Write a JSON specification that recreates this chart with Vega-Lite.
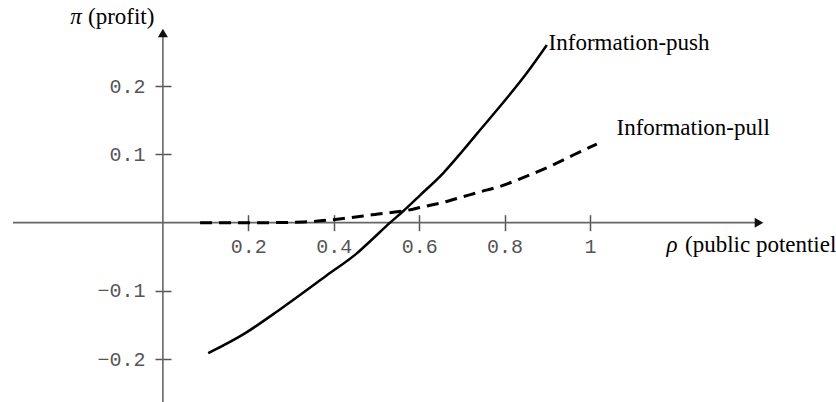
{
  "$schema": "https://vega.github.io/schema/vega-lite/v6.json",
  "width": 836,
  "height": 402,
  "autosize": {"type": "none"},
  "padding": 0,
  "background": "white",
  "config": {"view": {"stroke": null}},
  "datasets": {
    "curves": [
      {"series": "push", "x": 0.106, "y": -0.191},
      {"series": "push", "x": 0.192, "y": -0.162},
      {"series": "push", "x": 0.274, "y": -0.127},
      {"series": "push", "x": 0.384, "y": -0.077},
      {"series": "push", "x": 0.454, "y": -0.045},
      {"series": "push", "x": 0.489, "y": -0.025},
      {"series": "push", "x": 0.532, "y": 0.0},
      {"series": "push", "x": 0.563, "y": 0.017},
      {"series": "push", "x": 0.602, "y": 0.04},
      {"series": "push", "x": 0.657, "y": 0.073},
      {"series": "push", "x": 0.703, "y": 0.106},
      {"series": "push", "x": 0.735, "y": 0.13},
      {"series": "push", "x": 0.805, "y": 0.182},
      {"series": "push", "x": 0.852, "y": 0.219},
      {"series": "push", "x": 0.899, "y": 0.26},
      {"series": "pull", "x": 0.087, "y": 0.0},
      {"series": "pull", "x": 0.227, "y": 0.0},
      {"series": "pull", "x": 0.33, "y": 0.001},
      {"series": "pull", "x": 0.375, "y": 0.003},
      {"series": "pull", "x": 0.422, "y": 0.006},
      {"series": "pull", "x": 0.469, "y": 0.0097},
      {"series": "pull", "x": 0.516, "y": 0.0137},
      {"series": "pull", "x": 0.563, "y": 0.017},
      {"series": "pull", "x": 0.61, "y": 0.0234},
      {"series": "pull", "x": 0.657, "y": 0.0298},
      {"series": "pull", "x": 0.703, "y": 0.038},
      {"series": "pull", "x": 0.742, "y": 0.045},
      {"series": "pull", "x": 0.789, "y": 0.053},
      {"series": "pull", "x": 0.832, "y": 0.063},
      {"series": "pull", "x": 0.875, "y": 0.074},
      {"series": "pull", "x": 0.922, "y": 0.087},
      {"series": "pull", "x": 0.961, "y": 0.099},
      {"series": "pull", "x": 1.016, "y": 0.115}
    ],
    "axisLines": [
      {"x": -0.351, "x2": 1.39, "y": 0, "y2": 0},
      {"x": 0, "x2": 0, "y": -0.27, "y2": 0.275}
    ],
    "arrows": [
      {"x": 1.3957, "y": 0, "shape": "triangle-right"},
      {"x": 0, "y": 0.2776, "shape": "triangle-up"}
    ],
    "labels": [
      {"x": -0.217, "y": 0.301, "text": "π", "kind": "greek"},
      {"x": -0.1754, "y": 0.301, "text": "(profit)", "kind": "plain"},
      {"x": 0.903, "y": 0.263, "text": "Information-push", "kind": "plain"},
      {"x": 1.062, "y": 0.138, "text": "Information-pull", "kind": "plain"},
      {"x": 1.179, "y": -0.033, "text": "ρ", "kind": "greek"},
      {"x": 1.2224, "y": -0.033, "text": "(public potentiel)", "kind": "plain"}
    ]
  },
  "encoding": {
    "x": {
      "field": "x",
      "type": "quantitative",
      "scale": {"domain": [-0.3814, 1.576], "nice": false, "zero": false},
      "axis": {
        "title": null,
        "values": [0.2, 0.4, 0.6, 0.8, 1],
        "format": "~g",
        "domain": false,
        "grid": false,
        "offset": -187.3,
        "tickSize": 16,
        "tickColor": "#555555",
        "tickWidth": 1.5,
        "labelFont": "Liberation Mono",
        "labelFontSize": 20,
        "labelColor": "#555555",
        "labelPadding": 6
      }
    },
    "y": {
      "field": "y",
      "type": "quantitative",
      "scale": {"domain": [-0.2625, 0.3259], "nice": false, "zero": false},
      "axis": {
        "title": null,
        "values": [-0.2, -0.1, 0.1, 0.2],
        "format": "~g",
        "domain": false,
        "grid": false,
        "offset": -171,
        "tickSize": 16,
        "tickColor": "#555555",
        "tickWidth": 1.5,
        "labelFont": "Liberation Mono",
        "labelFontSize": 20,
        "labelColor": "#555555",
        "labelPadding": 10
      }
    }
  },
  "layer": [
    {
      "data": {"name": "axisLines"},
      "mark": {"type": "rule", "color": "#666666", "strokeWidth": 1.6},
      "encoding": {"x2": {"field": "x2"}, "y2": {"field": "y2"}}
    },
    {
      "data": {"name": "arrows"},
      "mark": {"type": "point", "filled": true, "size": 100, "color": "#111111", "opacity": 1},
      "encoding": {"shape": {"field": "shape", "type": "nominal", "scale": null, "legend": null}}
    },
    {
      "data": {"name": "curves"},
      "transform": [{"filter": "datum.series == 'push'"}],
      "mark": {"type": "line", "color": "#000000", "strokeWidth": 2.5, "interpolate": "monotone"}
    },
    {
      "data": {"name": "curves"},
      "transform": [{"filter": "datum.series == 'pull'"}],
      "mark": {"type": "line", "color": "#000000", "strokeWidth": 3, "strokeDash": [12, 7], "interpolate": "monotone"}
    },
    {
      "data": {"name": "labels"},
      "transform": [{"filter": "datum.kind == 'plain'"}],
      "mark": {"type": "text", "align": "left", "baseline": "middle", "font": "Liberation Serif", "fontSize": 23, "color": "#000000"},
      "encoding": {"text": {"field": "text"}}
    },
    {
      "data": {"name": "labels"},
      "transform": [{"filter": "datum.kind == 'greek'"}],
      "mark": {"type": "text", "align": "left", "baseline": "middle", "font": "Liberation Serif", "fontStyle": "italic", "fontSize": 23, "color": "#000000"},
      "encoding": {"text": {"field": "text"}}
    }
  ]
}
